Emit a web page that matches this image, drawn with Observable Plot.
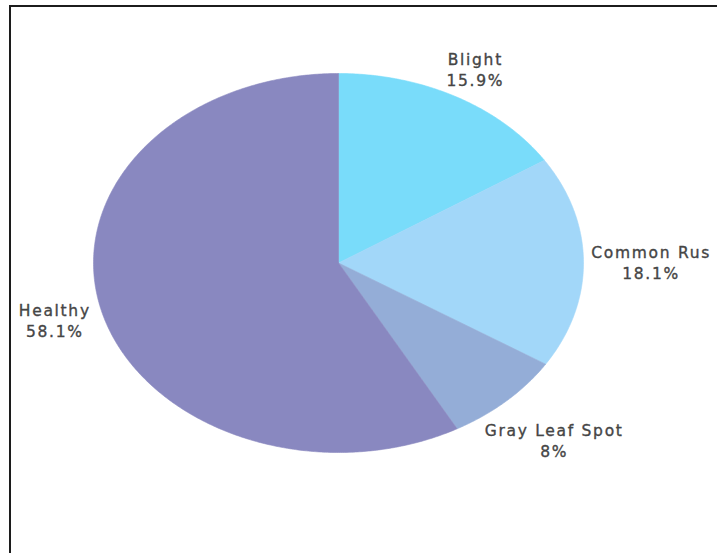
<!DOCTYPE html>
<html><head><meta charset="utf-8">
<script src="https://cdn.jsdelivr.net/npm/d3@7"></script>
<script src="https://cdn.jsdelivr.net/npm/@observablehq/plot@0.6"></script>
<style>
html,body{margin:0;padding:0;background:#fff;overflow:hidden;}
#wrap{position:relative;width:717px;height:553px;overflow:hidden;background:#fff;}
#chart{position:absolute;left:0;top:0;}
#frame{position:absolute;left:9px;top:5px;width:800px;height:700px;border-left:2px solid #1c1c1c;border-top:2px solid #1c1c1c;pointer-events:none;}
#chart svg text{letter-spacing:1.7px;}
</style></head><body>
<div id="wrap"><div id="chart"></div><div id="frame"></div></div>
<script>
// ---- data ----
const categories = ["Blight", "Common Rus", "Gray Leaf Spot", "Healthy"];
const values = [15.9, 18.1, 8, 58.1];
const pctLabels = ["15.9%", "18.1%", "8%", "58.1%"];
const colors = ["#79dcfa", "#a2d7f9", "#94add7", "#8988c0"];

// ---- layout ----
const W = 717, H = 553;
const mL = 93, mR = 134, mT = 73, mB = 101;
const rx = (W - mL - mR) / 2, ry = (H - mT - mB) / 2;
const fontSize = 15.5, fontFamily = "DejaVu Sans", ls = 1.7;

const arcs = d3.pie().sort(null).value(d => d)(values);

// wedge outlines (normalized unit-circle coords, mapped by the x/y scales)
const wedgePts = [];
arcs.forEach((a, i) => {
  const name = categories[i];
  wedgePts.push({name, x: 0, y: 0});
  const n = Math.max(2, Math.ceil((a.endAngle - a.startAngle) / (Math.PI / 360)));
  for (let k = 0; k <= n; k++) {
    const t = a.startAngle + (a.endAngle - a.startAngle) * k / n;
    wedgePts.push({name, x: Math.sin(t), y: Math.cos(t)});
  }
  wedgePts.push({name, x: 0, y: 0});
});

// label placement: push the text box outward along the mid-angle until it clears the pie
const ctx = document.createElement("canvas").getContext("2d");
ctx.font = `${fontSize}px "${fontFamily}"`;
const tw = s => ctx.measureText(s).width + ls * (s.length - 1);
const clear = 1.035, halfH = 17;
const labelData = arcs.map((a, i) => {
  const mid = (a.startAngle + a.endAngle) / 2;
  const hw = Math.max(tw(categories[i]), tw(pctLabels[i])) / 2 / rx;
  const hh = halfH / ry;
  const ux = Math.sin(mid), uy = Math.cos(mid);
  let t = 1;
  for (; t < 3; t += 0.001) {
    const cx = t * ux, cy = t * uy;
    const nx = Math.min(Math.max(0, cx - hw), cx + hw);
    const ny = Math.min(Math.max(0, cy - hh), cy + hh);
    if (Math.hypot(nx, ny) >= clear) break;
  }
  return {text: categories[i] + "\n" + pctLabels[i], x: t * ux, y: t * uy};
});

const chart = Plot.plot({
  width: W, height: H,
  marginLeft: mL, marginRight: mR, marginTop: mT, marginBottom: mB,
  x: {domain: [-1, 1], axis: null},
  y: {domain: [-1, 1], axis: null},
  color: {domain: categories, range: colors},
  style: {fontFamily: fontFamily, background: "transparent", overflow: "visible"},
  marks: [
    Plot.line(wedgePts, {x: "x", y: "y", z: "name", fill: "name", stroke: "name", strokeWidth: 0.6, curve: "linear"}),
    Plot.text(labelData, {x: "x", y: "y", text: "text", fill: "#454545", stroke: "#454545", strokeWidth: 0.35, fontSize: fontSize, lineHeight: 1.36, textAnchor: "middle", lineAnchor: "middle"})
  ]
});
document.getElementById("chart").appendChild(chart);
</script>
</body></html>
